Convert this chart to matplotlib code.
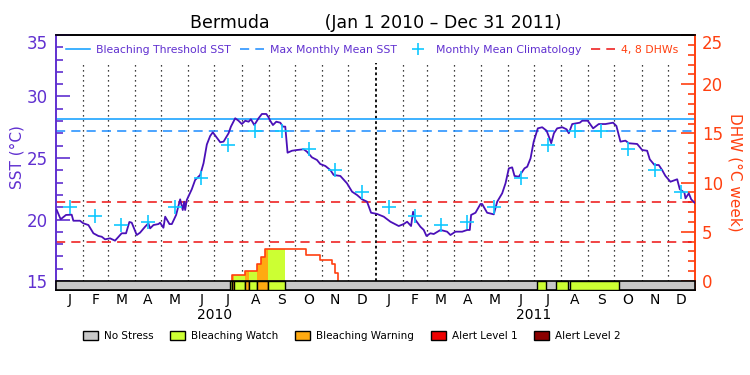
import numpy as np
import matplotlib
matplotlib.use("Agg")
import matplotlib.pyplot as plt
from matplotlib.lines import Line2D
from matplotlib.patches import Patch

# days since Jan 1 2010 and SST (deg C)
sst_day = [0.8, 5.3, 11.4, 17.9, 19.8, 27.4, 31.2, 37, 42.7, 48.4, 52.2, 56, 61.7, 67.4, 75, 80,
           83.8, 86.5, 92.2, 96, 101.7, 105.5, 107.5, 111.3, 117, 118.9, 122.7, 124.7, 129.6, 132.3,
           137.2, 141.8, 144.8, 146.4, 147.5, 149.4, 155.1, 158.9, 164.7, 168.5, 172.3, 176.1, 179.1,
           187.6, 191.4, 197.1, 199.8, 204.7, 208.5, 212.3, 216.2, 220, 222.6, 226.5, 231.4, 235.2,
           240.2, 242.8, 244.7, 247.8, 251.6, 256.2, 259.2, 261.9, 264.5, 269.5, 275.3, 282.9, 286.7,
           292.4, 298.1, 301.9, 307.7, 313.4, 317.2, 324.8, 332.4, 338.2, 343.9, 349.6, 355.3, 359.9,
           366.8, 374.4, 382, 391.5, 397.2, 401.1, 405.6, 407.9, 410.6, 416.3, 420.1, 423.2, 427.7,
           431.5, 439.2, 446.8, 450.6, 456.3, 464, 469.7, 472.7, 474.2, 479.2, 484.9, 486.8, 492.5,
           500.1, 504, 509.7, 513.5, 517.3, 521.1, 523.8, 528.7, 535.2, 538.3, 542.1, 545.7, 550.4,
           555.4, 560.4, 564.2, 565.7, 568.8, 572.5, 578.3, 583.3, 585.8, 589.7, 598.4, 601.1, 607.4,
           613.6, 620, 627.6, 636.4, 640.2, 644.8, 650.5, 654.3, 663.9, 669.6, 675.3, 678.3, 683.7,
           688.6, 692.4, 696.2, 701.9, 709.6, 712.6, 717.9, 719.1, 722.9, 725.6, 729.4]
sst_val = [20.77, 20.02, 20.37, 20.39, 19.90, 19.90, 19.69, 19.55, 18.88, 18.66, 18.60, 18.39, 18.47,
           18.28, 18.88, 18.88, 19.80, 19.74, 18.74, 18.93, 19.41, 19.69, 19.28, 19.55, 19.63, 19.74,
           19.33, 20.23, 19.63, 19.63, 20.37, 21.64, 20.77, 21.45, 20.77, 21.59, 22.46, 23.21, 23.62,
           24.57, 26.1, 26.79, 27.09, 26.28, 26.33, 27.01, 27.55, 28.23, 28.03, 27.76, 28.03, 27.95,
           28.15, 27.68, 28.23, 28.58, 28.58, 28.31, 28.03, 27.68, 27.95, 27.87, 27.55, 27.55, 25.43,
           25.59, 25.65, 25.71, 25.51, 25.05, 24.84, 24.51, 24.35, 24.02, 23.62, 23.54, 22.94, 22.26,
           21.99, 21.64, 21.45, 20.55, 20.45, 20.23, 19.82, 19.47, 19.63, 19.82, 19.47, 20.63, 19.96,
           19.41, 19.15, 18.66, 18.88, 18.82, 19.15, 19.01, 18.74, 19.01, 19.01, 19.15, 19.15, 20.37,
           20.55, 21.26, 21.26, 20.55, 20.42, 21.45, 22.13, 22.94, 24.16, 24.24, 23.54, 23.48, 24.16,
           24.29, 24.97, 26.33, 27.41, 27.50, 27.22, 26.52, 26.20, 27.01, 27.41, 27.50, 27.33, 27.01,
           27.76, 27.87, 28.03, 28.03, 27.41, 27.76, 27.76, 27.87, 27.60, 26.33, 26.41, 26.20, 26.14,
           25.65, 25.59, 24.89, 24.43, 24.43, 24.02, 23.54, 23.07, 23.27, 22.46, 22.18, 21.72, 22.13,
           21.64, 21.37]

# monthly mean climatology (Jan..Dec)
clim_val = [21.0, 20.26, 19.58, 19.80, 20.99, 23.40, 26.06, 27.17, 27.17, 25.73, 24.0, 22.24]
mmm = 27.2
threshold = mmm + 1.0

# degree heating weeks (step values)
dhw_day = [201.6, 201.6, 216.1, 229.9, 234.4, 239.0, 285.9, 301.9, 315.3, 319.1, 321.7]
dhw_val = [0.0, 0.61, 1.05, 1.73, 2.47, 3.22, 2.64, 2.13, 1.69, 0.85, 0.0]

# stress level periods: 1 = watch, 2 = warning
stress_start = [199.0, 201.6, 203.6, 216.1, 220.7, 229.9, 241.6, 549.0, 570.7, 587.0]
stress_end = [201.6, 203.6, 216.1, 220.7, 229.9, 241.6, 261.9, 560.0, 584.8, 643.1]
stress_level = [1, 2, 1, 2, 1, 2, 1, 1, 1, 1]

stress_names = ["No Stress", "Bleaching Watch", "Bleaching Warning", "Alert Level 1", "Alert Level 2"]
stress_colors = ["#c8c8c8", "#ccff33", "#ffaa11", "#ee0000", "#8b0000"]

purple = "#6030d0"
sst_col = "#4a10b8"
orange = "#ff4010"

months = np.arange("2010-01", "2012-02", dtype="datetime64[M]")
mstart = (months.astype("datetime64[D]") - np.datetime64("2010-01-01")).astype(int)
mmid = (mstart[:-1] + mstart[1:]) / 2.0
mlabels = list("JFMAMJJASOND") * 2
ndays = mstart[-1]

fig = plt.figure(figsize=(7.5, 3.75), dpi=100)
ax2 = fig.add_axes([0.0747, 0.2267, 0.852, 0.68])
ax = ax2.twinx()
ax.set_zorder(ax2.get_zorder() + 1)
ax.patch.set_visible(False)

ylo = 14.27
ax.set_ylim(ylo, 35)
ax2.set_ylim((ylo - 15) / 0.8, 25)
ax2.set_xlim(0, ndays)

# month boundaries
for d in mstart[1:-1]:
    if d == 365:
        ax2.vlines(d, 0.035, 0.89, transform=ax2.get_xaxis_transform(), colors="k",
                   linestyles=(0, (1.5, 1.5)), lw=1.3, zorder=0)
    else:
        ax2.vlines(d, 0.035, 0.89, transform=ax2.get_xaxis_transform(), colors="k",
                   linestyles=(0, (1, 3)), lw=0.9, zorder=0)

# DHW fill coloured by stress level
dd = np.array(dhw_day)
dv = np.array(dhw_val)
for s, e, lev in zip(stress_start, stress_end, stress_level):
    xs = np.unique(np.concatenate([[s, e], dd[(dd > s) & (dd < e)]]))
    idx = np.searchsorted(dd, xs, side="right") - 1
    vs = np.where(idx >= 0, dv[np.clip(idx, 0, None)], 0.0)
    ax2.fill_between(xs, 0, vs, step="post", color=stress_colors[lev], lw=0, zorder=1)
ax2.step(dhw_day, dhw_val, where="post", color=orange, lw=1.2, zorder=2)
for lv in [4, 8]:
    ax2.axhline(lv, color="#ee1111", lw=1.1, dashes=(6, 4), zorder=2)

# SST lines
ax.axhline(threshold, color="#0a9cff", lw=1.1, zorder=2)
ax.axhline(mmm, color="#1a8cff", lw=1.1, dashes=(6, 4), zorder=2)
ax.plot(sst_day, sst_val, color=sst_col, lw=1.3, zorder=3)
ax.plot(mmid, clim_val * 2, ls="none", marker="+", ms=10, mew=1.2, color="#10c8ff", zorder=4)

# stress bar
ax.bar(0, 15 - ylo, width=ndays, bottom=ylo, align="edge", color=stress_colors[0],
       edgecolor="k", lw=1.2, zorder=5, clip_on=False)
ax.bar(stress_start, 15 - ylo, width=np.array(stress_end) - np.array(stress_start), bottom=ylo,
       align="edge", color=[stress_colors[l] for l in stress_level], edgecolor="k", lw=1.0, zorder=6)

# axes styling
ax.yaxis.set_ticks_position("left")
ax2.yaxis.set_ticks_position("right")
ax.set_yticks([15, 20, 25, 30, 35])
ax.set_yticks(np.arange(16, 35), minor=True)
ax.tick_params(axis="y", which="both", direction="in", colors=purple, labelsize=12, pad=6,
               left=True, labelleft=True, right=False, labelright=False, width=1.2)
ax.tick_params(axis="y", which="major", length=10)
ax.tick_params(axis="y", which="minor", length=5)
ax2.set_yticks([0, 5, 10, 15, 20, 25])
ax2.set_yticks(np.arange(1, 25), minor=True)
ax2.tick_params(axis="y", which="both", direction="in", colors=orange, labelsize=12, pad=5,
                left=False, labelleft=False, right=True, labelright=True, width=1.2)
ax2.tick_params(axis="y", which="major", length=10)
ax2.tick_params(axis="y", which="minor", length=5)
# top labels sit just below the top edge, as in the original
ax.get_yticklabels()[-1].set_va("top")
ax2.get_yticklabels()[-1].set_va("top")

ax2.set_xticks(mmid)
ax2.set_xticklabels(mlabels)
ax2.tick_params(axis="x", length=0, labelsize=10, pad=2)
for yr, d in [("2010", 181), ("2011", 546)]:
    ax2.text(d, -0.1, yr, transform=ax2.get_xaxis_transform(), ha="center", va="center", fontsize=10)

for a in (ax, ax2):
    a.spines["left"].set_color(purple)
    a.spines["right"].set_color(orange)
    for sp in a.spines.values():
        sp.set_linewidth(1.2)

ax.yaxis.set_label_position("left")
ax.set_ylabel("SST (°C)", color=purple, fontsize=11)
ax.yaxis.label.set_va("center")
ax.yaxis.set_label_coords(-0.061, 0.52)
ax2.yaxis.set_label_position("right")
ax2.set_ylabel("DHW (°C week)", color=orange, fontsize=11, rotation=-90)
ax2.yaxis.label.set_va("center")
ax2.yaxis.set_label_coords(1.063, 0.46)

ax.set_title("Bermuda          (Jan 1 2010 – Dec 31 2011)", fontsize=12.5, pad=5)

handles = [Line2D([], [], color="#0a9cff", lw=1.1),
           Line2D([], [], color="#1a8cff", lw=1.1, dashes=(6, 4)),
           Line2D([], [], ls="none", marker="+", ms=9, mew=1.2, color="#10c8ff"),
           Line2D([], [], color="#ee1111", lw=1.1, dashes=(6, 4))]
labels = ["Bleaching Threshold SST", "Max Monthly Mean SST", "Monthly Mean Climatology", "4, 8 DHWs"]
leg = ax.legend(handles, labels, ncol=4, loc="upper left", bbox_to_anchor=(0.0, 1.0), frameon=False,
                fontsize=7.8, handlelength=2.2, columnspacing=0.9, handletextpad=0.55,
                borderaxespad=0.5)
for t, c in zip(leg.get_texts(), [purple, purple, purple, orange]):
    t.set_color(c)

fig.legend([Patch(facecolor=c, edgecolor="k", lw=1) for c in stress_colors], stress_names,
           ncol=5, loc="center", bbox_to_anchor=(0.469, 0.104), frameon=False, fontsize=7.5,
           handlelength=1.45, handleheight=0.85, columnspacing=1.6, handletextpad=0.58)

fig.savefig("out.png", dpi=100)
